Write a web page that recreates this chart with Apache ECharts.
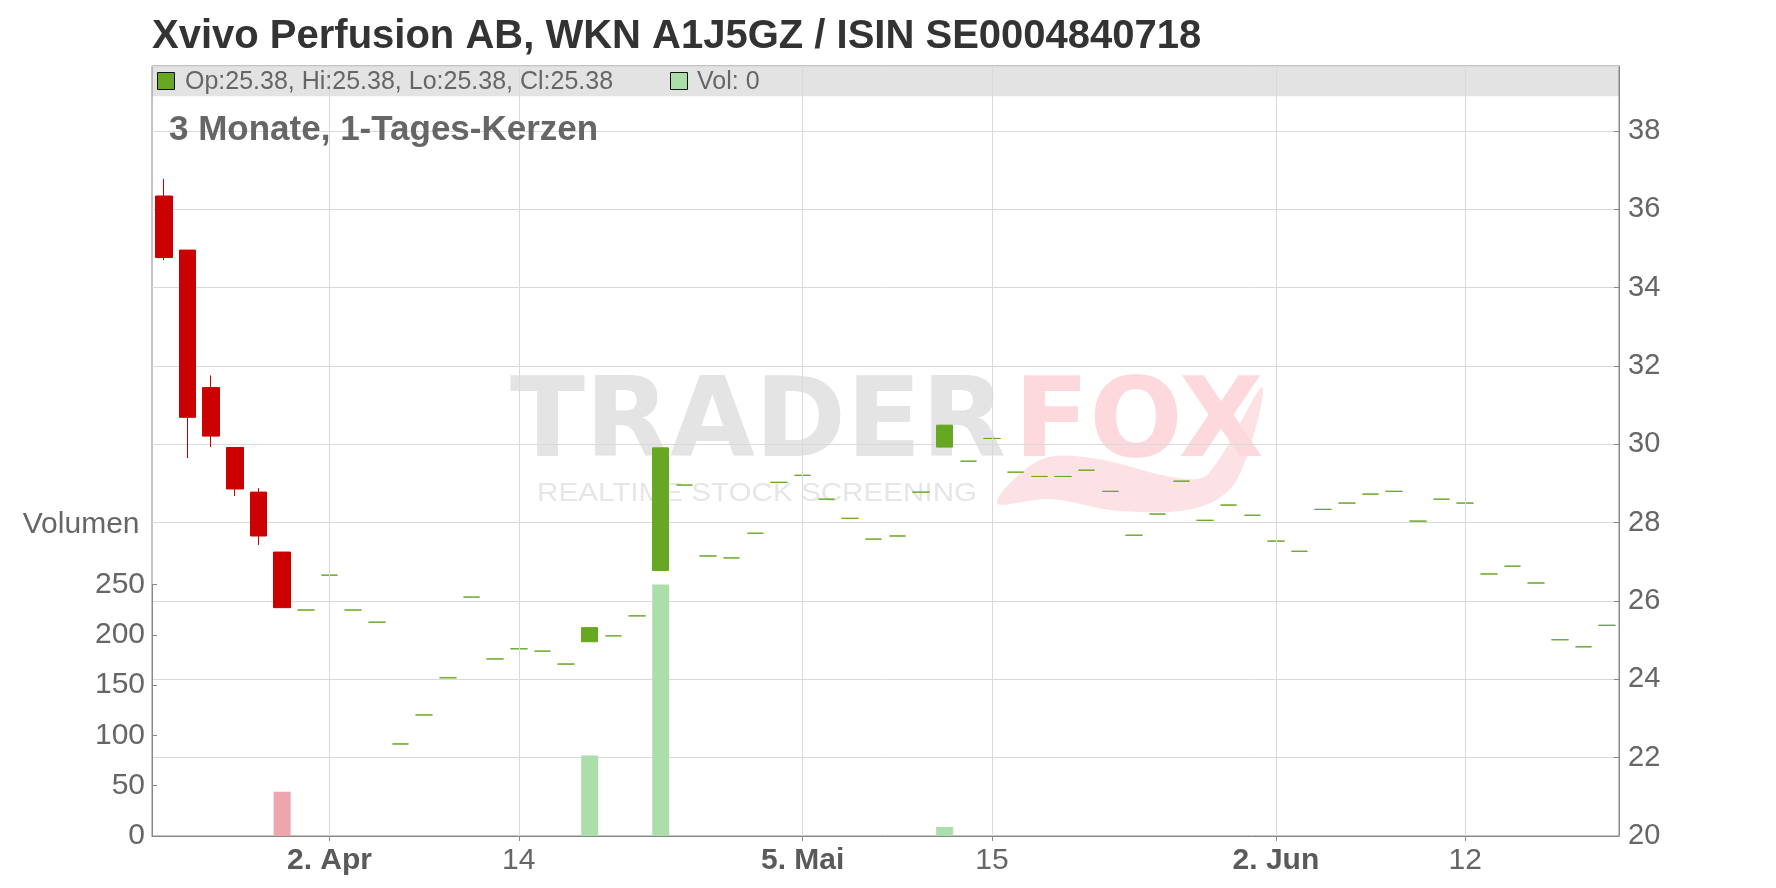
<!DOCTYPE html>
<html><head><meta charset="utf-8">
<script src="https://cdn.jsdelivr.net/npm/echarts@6/dist/echarts.min.js"></script>
<style>html,body{margin:0;padding:0;background:#fff}#c{width:1776px;height:888px}</style>
</head><body><div id="c"></div>
<script>
const dates = [
 '2025-03-24','2025-03-25','2025-03-26','2025-03-27','2025-03-28','2025-03-31',
 '2025-04-01','2025-04-02','2025-04-03','2025-04-04','2025-04-07','2025-04-08','2025-04-09','2025-04-10','2025-04-11',
 '2025-04-14','2025-04-15','2025-04-16','2025-04-17','2025-04-22','2025-04-23','2025-04-24','2025-04-25',
 '2025-04-28','2025-04-29','2025-04-30',
 '2025-05-02','2025-05-05','2025-05-06','2025-05-07','2025-05-08','2025-05-09','2025-05-12','2025-05-13','2025-05-14',
 '2025-05-15','2025-05-16','2025-05-19','2025-05-20','2025-05-21','2025-05-22','2025-05-23','2025-05-26','2025-05-27',
 '2025-05-28','2025-05-29','2025-05-30',
 '2025-06-02','2025-06-03','2025-06-04','2025-06-05','2025-06-06','2025-06-09','2025-06-10','2025-06-11','2025-06-12',
 '2025-06-13','2025-06-16','2025-06-17','2025-06-18','2025-06-19','2025-06-20'
];
const opens = [
 36.34, 34.96, 31.45, 29.92, 28.78, 27.25, 25.77, 26.66, 25.77, 25.46,
 22.35, 23.09, 24.04, 26.10, 24.52, 24.78, 24.72, 24.39, 24.96, 25.11,
 25.62, 26.78, 28.96, 27.15, 27.10, 27.73, 29.03, 29.21, 28.60, 28.11,
 27.58, 27.66, 28.78, 29.93, 29.57, 30.15, 29.29, 29.18, 29.18, 29.34,
 28.80, 27.68, 28.22, 29.06, 28.06, 28.45, 28.19, 27.53, 27.27, 28.34,
 28.50, 28.73, 28.80, 28.04, 28.60, 28.50, 26.69, 26.89, 26.46, 25.01,
 24.83, 25.38
];
const closes = [
 34.77, 30.69, 30.21, 28.86, 27.66, 25.83, 25.77, 26.66, 25.77, 25.46,
 22.35, 23.09, 24.04, 26.10, 24.52, 24.78, 24.72, 24.39, 25.32, 25.11,
 25.62, 29.91, 28.96, 27.15, 27.10, 27.73, 29.03, 29.21, 28.60, 28.11,
 27.58, 27.66, 28.78, 30.49, 29.57, 30.15, 29.29, 29.18, 29.18, 29.34,
 28.80, 27.68, 28.22, 29.06, 28.06, 28.45, 28.19, 27.53, 27.27, 28.34,
 28.50, 28.73, 28.80, 28.04, 28.60, 28.50, 26.69, 26.89, 26.46, 25.01,
 24.83, 25.38
];
const lows = [
 34.70, 29.65, 29.93, 28.68, 27.43, 25.83, 25.77, 26.66, 25.77, 25.46,
 22.35, 23.09, 24.04, 26.10, 24.52, 24.78, 24.72, 24.39, 24.96, 25.11,
 25.62, 26.78, 28.96, 27.15, 27.10, 27.73, 29.03, 29.21, 28.60, 28.11,
 27.58, 27.66, 28.78, 29.93, 29.57, 30.15, 29.29, 29.18, 29.18, 29.34,
 28.80, 27.68, 28.22, 29.06, 28.06, 28.45, 28.19, 27.53, 27.27, 28.34,
 28.50, 28.73, 28.80, 28.04, 28.60, 28.50, 26.69, 26.89, 26.46, 25.01,
 24.83, 25.38
];
const highs = [
 36.78, 34.96, 31.76, 29.92, 28.88, 27.25, 25.77, 26.66, 25.77, 25.46,
 22.35, 23.09, 24.04, 26.10, 24.52, 24.78, 24.72, 24.39, 25.32, 25.11,
 25.62, 29.91, 28.96, 27.15, 27.10, 27.73, 29.03, 29.21, 28.60, 28.11,
 27.58, 27.66, 28.78, 30.49, 29.57, 30.15, 29.29, 29.18, 29.18, 29.34,
 28.80, 27.68, 28.22, 29.06, 28.06, 28.45, 28.19, 27.53, 27.27, 28.34,
 28.50, 28.73, 28.80, 28.04, 28.60, 28.50, 26.69, 26.89, 26.46, 25.01,
 24.83, 25.38
];
const volumes = [
 0, 0, 0, 0, 0, 44, 0, 0, 0, 0,
 0, 0, 0, 0, 0, 0, 0, 0, 80, 0,
 0, 250, 0, 0, 0, 0, 0, 0, 0, 0,
 0, 0, 0, 9, 0, 0, 0, 0, 0, 0,
 0, 0, 0, 0, 0, 0, 0, 0, 0, 0,
 0, 0, 0, 0, 0, 0, 0, 0, 0, 0,
 0, 0
];
const tickDates = ['2025-04-02','2025-04-14','2025-05-05','2025-05-15','2025-06-02','2025-06-12'];
const tickTexts = ['2. Apr','14','5. Mai','15','2. Jun','12'];
const tickBold  = [true, false, true, false, true, false];

const titleText = 'Xvivo Perfusion AB, WKN A1J5GZ / ISIN SE0004840718';
const subtitleText = '3 Monate, 1-Tages-Kerzen';
const volName = 'Volumen';

const FONT = '"Liberation Sans", Arial, sans-serif';
const GREEN = '#66a821', RED = '#cc0000', VGREEN = '#acdeaa', VRED = '#eea6ae';
const GRIDC = '#d9d9d9', AXC = '#888888', LABC = '#666666';

const L = 152, R = 157, TOP = 66, BOT = 52;
const last = dates.length - 1;
const tickIdx = new Set(tickDates.map(d => dates.indexOf(d)));

const candleData = dates.map((d, i) => {
  const item = { value: [opens[i], closes[i], lows[i], highs[i]] };
  if (opens[i] === closes[i]) {
    item.itemStyle = { color: GREEN, color0: GREEN, borderColor: GREEN, borderColor0: GREEN, borderColorDoji: GREEN };
  }
  return item;
});
const volData = volumes.map((v, i) => ({
  value: v,
  itemStyle: { color: closes[i] < opens[i] ? VRED : VGREEN }
}));

const headerText = 'Op:' + opens[last].toFixed(2) + ', Hi:' + highs[last].toFixed(2) +
  ', Lo:' + lows[last].toFixed(2) + ', Cl:' + closes[last].toFixed(2);

const chart = echarts.init(document.getElementById('c'), null, { renderer: 'canvas' });
chart.setOption({
  animation: false,
  backgroundColor: '#ffffff',
  title: {
    text: titleText, left: 152, top: 16.5, padding: 0,
    textStyle: { fontSize: 40, fontWeight: 'bold', color: '#333333', fontFamily: FONT }
  },
  grid: [
    { left: L, right: R, top: TOP, bottom: BOT, show: true, borderColor: AXC, borderWidth: 1, backgroundColor: 'transparent' },
    { left: L, right: R, top: 584.5, bottom: BOT }
  ],
  xAxis: [
    {
      type: 'category', gridIndex: 0, data: dates, boundaryGap: true,
      axisLine: { show: true, lineStyle: { color: AXC, width: 1 } },
      axisTick: { show: true, alignWithLabel: true, length: 5, interval: (i) => tickIdx.has(i), lineStyle: { color: AXC } },
      axisLabel: {
        show: true, interval: (i) => tickIdx.has(i), margin: 10,
        color: LABC, fontSize: 30, fontFamily: FONT,
        formatter: (v) => {
          const k = tickDates.indexOf(v);
          if (k < 0) return '';
          return tickBold[k] ? '{b|' + tickTexts[k] + '}' : tickTexts[k];
        },
        rich: { b: { fontWeight: 'bold', fontSize: 30, color: '#5a5a5a', fontFamily: FONT } }
      },
      splitLine: { show: false }
    },
    {
      type: 'category', gridIndex: 1, data: dates, boundaryGap: true,
      axisLine: { show: false }, axisTick: { show: false }, axisLabel: { show: false }, splitLine: { show: false }
    }
  ],
  yAxis: [
    {
      type: 'value', gridIndex: 0, position: 'right', min: 20, max: 39.66, interval: 2, scale: false,
      axisLine: { show: true, lineStyle: { color: AXC } },
      axisTick: { show: true, inside: true, length: 5, lineStyle: { color: AXC } },
      axisLabel: { color: LABC, fontSize: 29, fontFamily: FONT, margin: 9, showMaxLabel: false, padding: [5, 0, 0, 0] },
      splitLine: { show: true, lineStyle: { color: GRIDC, width: 1 } }
    },
    {
      type: 'value', gridIndex: 1, position: 'left', min: 0, max: 250, interval: 50,
      axisLine: { show: true, lineStyle: { color: AXC } },
      axisTick: { show: true, inside: true, length: 5, lineStyle: { color: AXC } },
      axisLabel: { color: LABC, fontSize: 30, fontFamily: FONT, margin: 7, padding: [5, 0, 0, 0] },
      splitLine: { show: false }
    }
  ],
  series: [
    {
      type: 'line', xAxisIndex: 0, yAxisIndex: 0, data: closes, z: 1, silent: true,
      symbol: 'none', showSymbol: false, lineStyle: { opacity: 0, width: 0 },
      markLine: {
        silent: true, symbol: ['none', 'none'], label: { show: false },
        lineStyle: { color: GRIDC, width: 1, type: 'solid' },
        emphasis: { disabled: true },
        data: tickDates.map(d => ({ xAxis: d }))
      }
    },
    {
      type: 'bar', xAxisIndex: 1, yAxisIndex: 1, data: volData, barWidth: 17, z: 2, silent: true
    },
    {
      type: 'candlestick', xAxisIndex: 0, yAxisIndex: 0, data: candleData, barWidth: 17, z: 3, silent: true,
      itemStyle: { color: GREEN, color0: RED, borderColor: GREEN, borderColor0: RED, borderColorDoji: GREEN, borderWidth: 1 }
    }
  ],
  graphic: [
    { type: 'polygon', z: -4, silent: true,
      shape: { smooth: 0.35, points: [[997,503],[1040,460],[1092,458],[1178,478],[1208,474],[1262,387],[1238,478],[1200,507],[1120,511],[1050,499]] },
      style: { fill: '#fde2e5' } },
    { type: 'text', z: -3, x: 510, y: 427, style: { text: 'TRADER', font: 'bold 110px "DejaVu Sans"', fill: '#e4e4e4', textAlign: 'left', textVerticalAlign: 'middle', align: 'left', verticalAlign: 'middle' } },
    { type: 'text', z: -3, x: 1014, y: 427, style: { text: 'FOX', font: 'bold 110px "DejaVu Sans"', fill: '#fdd9dd', textAlign: 'left', textVerticalAlign: 'middle', align: 'left', verticalAlign: 'middle' } },
    { type: 'text', z: -3, x: 537, y: 494, scaleX: 1.185, style: { text: 'REALTIME STOCK SCREENING', font: '25px "Liberation Sans"', fill: '#e6e6e6', textAlign: 'left', textVerticalAlign: 'middle', align: 'left', verticalAlign: 'middle' } },
    { type: 'rect', z: -1, shape: { x: L, y: TOP, width: 1776 - L - R, height: 30.3 }, style: { fill: '#e3e3e3' } },
    { type: 'rect', z: 10, shape: { x: 157.5, y: 72.5, width: 17, height: 17 }, style: { fill: GREEN, stroke: '#111', lineWidth: 1 } },
    { type: 'text', z: 10, x: 185, y: 82.5, style: { text: headerText, font: '25px ' + FONT, fill: LABC, textAlign: 'left', textVerticalAlign: 'middle', align: 'left', verticalAlign: 'middle' } },
    { type: 'rect', z: 10, shape: { x: 670.5, y: 72.5, width: 17, height: 17 }, style: { fill: VGREEN, stroke: '#111', lineWidth: 1 } },
    { type: 'text', z: 10, x: 697, y: 82.5, style: { text: 'Vol: ' + volumes[last], font: '25px ' + FONT, fill: LABC, textAlign: 'left', textVerticalAlign: 'middle', align: 'left', verticalAlign: 'middle' } },
    { type: 'text', z: 10, x: 169, y: 130, style: { text: subtitleText, font: 'bold 35px ' + FONT, fill: LABC, textAlign: 'left', textVerticalAlign: 'middle', align: 'left', verticalAlign: 'middle' } },
    { type: 'text', z: 10, x: 139.5, y: 524.5, style: { text: volName, font: '30px ' + FONT, fill: LABC, textAlign: 'right', textVerticalAlign: 'middle', align: 'right', verticalAlign: 'middle' } }
  ]
});
</script></body></html>
